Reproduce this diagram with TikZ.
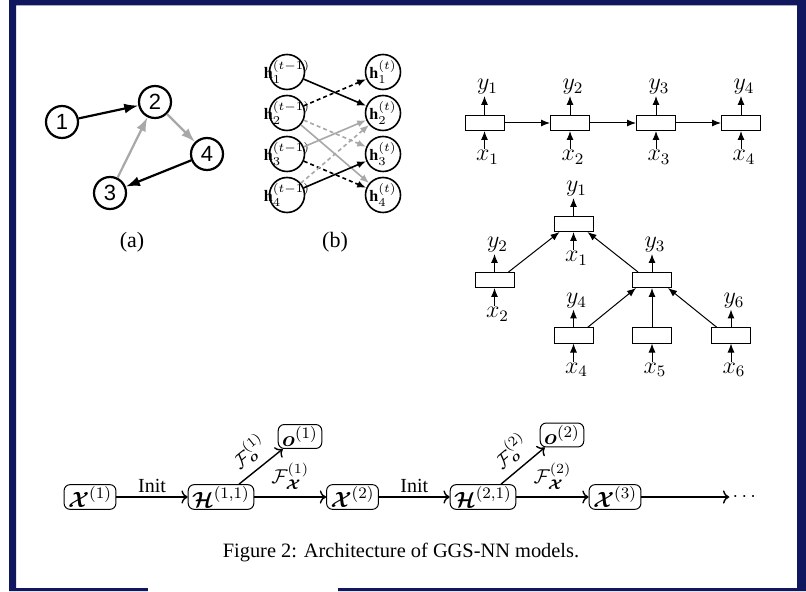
\documentclass[tikz,border=0pt]{standalone}
\usepackage{fontspec}
\setmainfont{Liberation Serif}
\newfontfamily\digitfont{Liberation Sans}
\usepackage{amsmath}
\usepackage{bm}
\usetikzlibrary{arrows.meta,positioning}

\definecolor{framenavy}{RGB}{16,23,95}
\definecolor{edgegray}{RGB}{168,168,168}

\begin{document}
\begin{tikzpicture}[x=0.5pt, y=-0.5pt,
    font=\fontsize{10}{12}\selectfont,
    vtx/.style={circle, draw, line width=1.1pt, minimum size=16pt, inner sep=0pt,
                font=\digitfont\fontsize{11}{13}\selectfont},
    hvtx/.style={circle, draw, line width=0.8pt, minimum size=17.5pt, inner sep=0pt,
                 font=\fontsize{8}{9.6}\selectfont},
    garc/.style={line width=1.1pt, -{Latex[length=7pt,width=5pt]}},
    harc/.style={line width=0.8pt, -{Latex[length=4.5pt,width=3.5pt]}},
    rev/.style={dash pattern=on 2pt off 1.5pt},
    cell/.style={draw, line width=0.5pt, minimum width=19.5pt, minimum height=7.5pt,
                 inner sep=0pt},
    io/.style={line width=0.5pt, -{Latex[length=4.5pt,width=3.5pt]}},
    var/.style={inner sep=0.5pt, font=\fontsize{12}{14}\selectfont},
    stage/.style={draw, rounded corners=3pt, inner xsep=2pt, inner ysep=1pt,
                  line width=0.5pt, font=\fontsize{11}{13}\selectfont},
    flow/.style={line width=0.7pt, ->},
    captext/.style={font=\fontsize{10.2}{12.2}\selectfont}]

  % page and frame
  \fill[white] (0,0) rectangle (806,591);
  \fill[framenavy, even odd rule] (9,0) rectangle (806,591) (16,5.5) rectangle (797,588);
  \fill[white] (148,587) rectangle (338,592);

  % (a) the graph
  \node[vtx] (n1) at (62,122) {1};
  \node[vtx] (n2) at (155,102) {2};
  \node[vtx] (n4) at (207,154) {4};
  \node[vtx] (n3) at (110,193) {3};
  \draw[garc] (n1) -- (n2);
  \draw[garc, edgegray] (n2) -- (n4);
  \draw[garc] (n4) -- (n3);
  \draw[garc, edgegray] (n3) -- (n2);
  \node[font=\fontsize{11}{13}\selectfont] (suba) at (132,242) {(a)};

  % (b) one propagation step, text may spill over the circles
  \node[hvtx] (p1) at (287,72) {\makebox[0pt]{$\mathbf{h}^{(t-1)}_1$}};
  \node[hvtx] (p2) at (287,113) {\makebox[0pt]{$\mathbf{h}^{(t-1)}_2$}};
  \node[hvtx] (p3) at (287,154) {\makebox[0pt]{$\mathbf{h}^{(t-1)}_3$}};
  \node[hvtx] (p4) at (287,195) {\makebox[0pt]{$\mathbf{h}^{(t-1)}_4$}};
  \node[hvtx] (q1) at (383,72) {\makebox[0pt]{$\mathbf{h}^{(t)}_1$}};
  \node[hvtx] (q2) at (383,113) {\makebox[0pt]{$\mathbf{h}^{(t)}_2$}};
  \node[hvtx] (q3) at (383,154) {\makebox[0pt]{$\mathbf{h}^{(t)}_3$}};
  \node[hvtx] (q4) at (383,195) {\makebox[0pt]{$\mathbf{h}^{(t)}_4$}};
  \draw[harc] (p1) -- (q2);
  \draw[harc, rev] (p2) -- (q1);
  \draw[harc, edgegray] (p2) -- (q4);
  \draw[harc, edgegray, rev] (p2) -- (q3);
  \draw[harc, edgegray] (p3) -- (q2);
  \draw[harc, rev] (p3) -- (q4);
  \draw[harc] (p4) -- (q3);
  \draw[harc, edgegray, rev] (p4) -- (q2);
  \node[font=\fontsize{11}{13}\selectfont] (subb) at (335,242) {(b)};

  % chain
  \node[cell] (c1) at (484.5,123) {};
  \node[cell] (c2) at (570,123) {};
  \node[cell] (c3) at (656,123) {};
  \node[cell] (c4) at (741,123) {};
  \node[var, above=9.5pt of c1, xshift=1.5pt] (cy1) {$y_1$};
  \node[var, above=9.5pt of c2, xshift=1.5pt] (cy2) {$y_2$};
  \node[var, above=9.5pt of c3, xshift=1.5pt] (cy3) {$y_3$};
  \node[var, above=9.5pt of c4, xshift=1.5pt] (cy4) {$y_4$};
  \node[var, below=9pt of c1, xshift=1.5pt] (cx1) {$x_1$};
  \node[var, below=9pt of c2, xshift=1.5pt] (cx2) {$x_2$};
  \node[var, below=9pt of c3, xshift=1.5pt] (cx3) {$x_3$};
  \node[var, below=9pt of c4, xshift=1.5pt] (cx4) {$x_4$};
  \draw[io] (c1.north) -- (c1.north |- cy1.south);
  \draw[io] (c2.north) -- (c2.north |- cy2.south);
  \draw[io] (c3.north) -- (c3.north |- cy3.south);
  \draw[io] (c4.north) -- (c4.north |- cy4.south);
  \draw[io] (c1.south |- cx1.north) -- (c1.south);
  \draw[io] (c2.south |- cx2.north) -- (c2.south);
  \draw[io] (c3.south |- cx3.north) -- (c3.south);
  \draw[io] (c4.south |- cx4.north) -- (c4.south);
  \draw[io] (c1) -- (c2);
  \draw[io] (c2) -- (c3);
  \draw[io] (c3) -- (c4);

  % tree
  \node[cell] (t1) at (573.5,224) {};
  \node[cell] (t2) at (494.5,280) {};
  \node[cell] (t3) at (652,280) {};
  \node[cell] (t4) at (573.5,335.5) {};
  \node[cell] (t5) at (652,335.5) {};
  \node[cell] (t6) at (731,335.5) {};
  \node[var, above=9pt of t1, xshift=1.5pt] (ty1) {$y_1$};
  \node[var, above=9pt of t2, xshift=1.5pt] (ty2) {$y_2$};
  \node[var, above=9pt of t3, xshift=1.5pt] (ty3) {$y_3$};
  \node[var, above=9pt of t4, xshift=1.5pt] (ty4) {$y_4$};
  \node[var, above=9pt of t6, xshift=1.5pt] (ty6) {$y_6$};
  \node[var, below=9pt of t1, xshift=1.5pt] (tx1) {$x_1$};
  \node[var, below=9pt of t2, xshift=1.5pt] (tx2) {$x_2$};
  \node[var, below=9pt of t4, xshift=1.5pt] (tx4) {$x_4$};
  \node[var, below=9pt of t5, xshift=1.5pt] (tx5) {$x_5$};
  \node[var, below=9pt of t6, xshift=1.5pt] (tx6) {$x_6$};
  \draw[io] (t1.north) -- (t1.north |- ty1.south);
  \draw[io] (t2.north) -- (t2.north |- ty2.south);
  \draw[io] (t3.north) -- (t3.north |- ty3.south);
  \draw[io] (t4.north) -- (t4.north |- ty4.south);
  \draw[io] (t6.north) -- (t6.north |- ty6.south);
  \draw[io] (t1.south |- tx1.north) -- (t1.south);
  \draw[io] (t2.south |- tx2.north) -- (t2.south);
  \draw[io] (t4.south |- tx4.north) -- (t4.south);
  \draw[io] (t5.south |- tx5.north) -- (t5.south);
  \draw[io] (t6.south |- tx6.north) -- (t6.south);
  \draw[io] ([xshift=-3pt]t2.north east) -- ([xshift=3pt]t1.south west);
  \draw[io] ([xshift=3pt]t3.north west) -- ([xshift=-3pt]t1.south east);
  \draw[io] ([xshift=-3pt]t4.north east) -- ([xshift=2pt]t3.south west);
  \draw[io] (t5) -- (t3);
  \draw[io] ([xshift=3pt]t6.north west) -- ([xshift=-2pt]t3.south east);

  % GGS-NN pipeline
  \node[stage] (X1) at (90,497) {$\bm{\mathcal{X}}^{(1)}$};
  \node[stage] (H11) at (221,497) {$\bm{\mathcal{H}}^{(1,1)}$};
  \node[stage] (O1) at (300,436.5) {$\bm{o}^{(1)}$};
  \node[stage] (X2) at (352.5,497) {$\bm{\mathcal{X}}^{(2)}$};
  \node[stage] (H21) at (483,497) {$\bm{\mathcal{H}}^{(2,1)}$};
  \node[stage] (O2) at (562,435) {$\bm{o}^{(2)}$};
  \node[stage] (X3) at (615,497) {$\bm{\mathcal{X}}^{(3)}$};
  \node[inner sep=0.5pt] (dots) at (746,497) {$\cdots$};
  \draw[flow] (X1) -- node[above, inner sep=2pt] {Init} (H11);
  \draw[flow] ([xshift=9pt]H11.north) -- node[sloped, above] {$\mathcal{F}^{(1)}_{\bm{o}}$}
    ([xshift=2.5pt]O1.south west);
  \draw[flow] (H11) -- node[above] {$\mathcal{F}^{(1)}_{\bm{\mathcal{X}}}$} (X2);
  \draw[flow] (X2) -- node[above, inner sep=2pt] {Init} (H21);
  \draw[flow] ([xshift=9pt]H21.north) -- node[sloped, above] {$\mathcal{F}^{(2)}_{\bm{o}}$}
    ([xshift=2.5pt]O2.south west);
  \draw[flow] (H21) -- node[above] {$\mathcal{F}^{(2)}_{\bm{\mathcal{X}}}$} (X3);
  \draw[flow] (X3) -- ([xshift=-1pt]dots.west);

  \node[captext, anchor=base] (caption) at (401,557) {Figure 2: Architecture of GGS-NN models.};
\end{tikzpicture}
\end{document}
